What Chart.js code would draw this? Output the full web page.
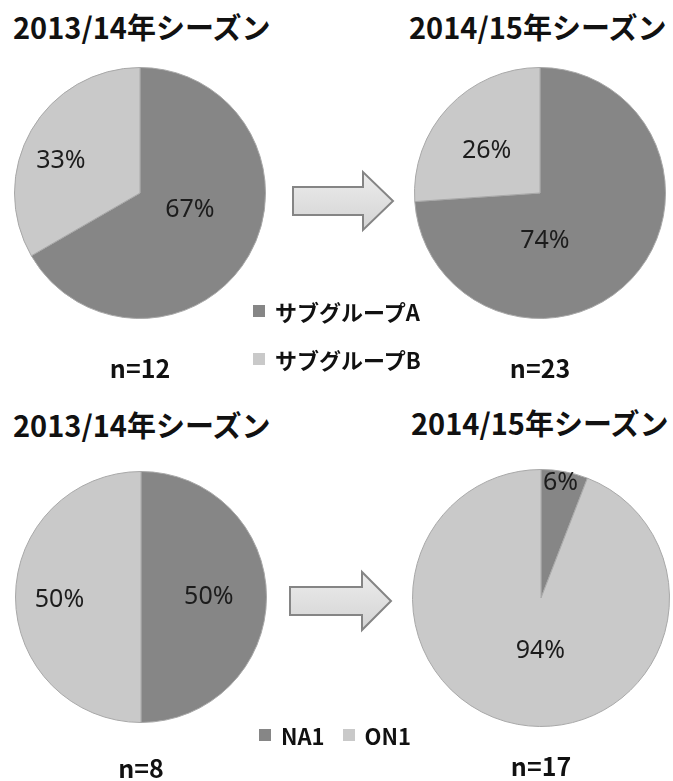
<!DOCTYPE html>
<html lang="ja">
<head>
<meta charset="utf-8">
<script src="https://cdn.jsdelivr.net/npm/chart.js@4.4.1/dist/chart.umd.min.js"></script>
<style>
  html, body { margin: 0; padding: 0; background: #fff; }
  body {
    width: 673px; height: 781px; position: relative; overflow: hidden;
    font-family: "Noto Sans CJK JP", "Noto Sans", sans-serif; color: #111;
  }
  .title { position: absolute; font-size: 29px; font-weight: 700; white-space: nowrap; line-height: 1; }
  .count { position: absolute; font-size: 25px; font-weight: 700; line-height: 1; transform: translateX(-50%); white-space: nowrap; }
  .pie { position: absolute; }
  .legend { position: absolute; font-size: 22px; font-weight: 700; line-height: 1; white-space: nowrap; }
  .legend .item { display: flex; align-items: center; }
  .legend .box { display: inline-block; width: 12px; height: 12px; margin-right: 10px; }
  svg.arrow { position: absolute; left: 0; top: 0; }
</style>
</head>
<body>

<div class="title" style="left:13px; top:12px;" id="t1"></div>
<div class="title" style="left:409px; top:12px;" id="t2"></div>
<div class="title" style="left:13px; top:410px;" id="t3"></div>
<div class="title" style="left:411px; top:408px;" id="t4"></div>

<div class="pie" style="left:14px; top:67px; width:252px; height:252px;"><canvas id="pie1" width="252" height="252"></canvas></div>
<div class="pie" style="left:414px; top:67px; width:252px; height:252px;"><canvas id="pie2" width="252" height="252"></canvas></div>
<div class="pie" style="left:15px; top:471px; width:252px; height:252px;"><canvas id="pie3" width="252" height="252"></canvas></div>
<div class="pie" style="left:412px; top:469px; width:258px; height:258px;"><canvas id="pie4" width="258" height="258"></canvas></div>

<svg class="arrow" width="673" height="781">
  <defs>
    <linearGradient id="arrowFill" x1="0" y1="0" x2="0" y2="1">
      <stop offset="0" stop-color="#ececec"/>
      <stop offset="1" stop-color="#d4d4d4"/>
    </linearGradient>
  </defs>
  <polygon points="293,187 363,187 363,172 393,201 363,230 363,215 293,215"
           fill="url(#arrowFill)" stroke="#858585" stroke-width="2"/>
  <polygon points="290,587 362,587 362,572 391,601 362,630 362,615 290,615"
           fill="url(#arrowFill)" stroke="#858585" stroke-width="2"/>
</svg>

<div class="legend" id="legend1" style="left:253px; top:300px;"></div>
<div class="legend" id="legend2" style="left:259px; top:724px;"></div>

<div class="count" style="left:140px; top:355px;" id="n1"></div>
<div class="count" style="left:540px; top:355px;" id="n2"></div>
<div class="count" style="left:141px; top:755px;" id="n3"></div>
<div class="count" style="left:541px; top:753px;" id="n4"></div>

<script>
// seasons
const seasonTitles = ["2013/14年シーズン", "2014/15年シーズン"];

// subgroup split (counts)
const subgroupLabels = ["サブグループA", "サブグループB"];
const subgroup1314 = [8, 4];
const subgroup1415 = [17, 6];

// genotype split (counts)
const genotypeLabels = ["NA1", "ON1"];
const genotype1314 = [4, 4];
const genotype1415 = [1, 16];

const sliceColors = ["#868686", "#c9c9c9"];

// percentage text inside each slice: placed from the slice's mid angle,
// nudged by `turn` degrees and pushed out to `radius` x outer radius
const sliceLabels = {
  id: "sliceLabels",
  afterDatasetsDraw(chart, args, opts) {
    const ctx = chart.ctx;
    const data = chart.data.datasets[0].data;
    const total = data.reduce((a, b) => a + b, 0);
    ctx.save();
    ctx.font = opts.font;
    ctx.fillStyle = opts.color;
    ctx.textAlign = "center";
    ctx.textBaseline = "middle";
    chart.getDatasetMeta(0).data.forEach((arc, i) => {
      const p = arc.getProps(["x", "y", "startAngle", "endAngle", "outerRadius"], true);
      const place = opts.place[i];
      const mid = (p.startAngle + p.endAngle) / 2 + place.turn * Math.PI / 180;
      const r = p.outerRadius * place.radius;
      const pct = Math.round(data[i] / total * 100) + "%";
      ctx.fillText(pct, p.x + Math.cos(mid) * r, p.y + Math.sin(mid) * r);
    });
    ctx.restore();
  }
};

function makePie(id, labels, values, place) {
  return new Chart(document.getElementById(id), {
    type: "pie",
    data: {
      labels: labels,
      datasets: [{
        data: values,
        backgroundColor: sliceColors,
        borderColor: "#a8a8a8",
        borderWidth: 1
      }]
    },
    options: {
      responsive: false,
      animation: false,
      devicePixelRatio: 1,
      layout: { padding: 0 },
      plugins: {
        legend: { display: false },
        tooltip: { enabled: false },
        sliceLabels: {
          font: "25px 'Noto Sans', 'DejaVu Sans', sans-serif",
          color: "#1c1c1c",
          place: place
        }
      }
    },
    plugins: [sliceLabels]
  });
}

makePie("pie1", subgroupLabels, subgroup1314, [{ radius: 0.42, turn: -11 }, { radius: 0.68, turn: -8 }]);
makePie("pie2", subgroupLabels, subgroup1415, [{ radius: 0.38, turn: 41 }, { radius: 0.54, turn: -5 }]);
makePie("pie3", genotypeLabels, genotype1314, [{ radius: 0.54, turn: 0 }, { radius: 0.65, turn: -2 }]);
makePie("pie4", genotypeLabels, genotype1415, [{ radius: 0.91, turn: -1 }, { radius: 0.41, turn: -10 }]);

document.getElementById("t1").textContent = seasonTitles[0];
document.getElementById("t2").textContent = seasonTitles[1];
document.getElementById("t3").textContent = seasonTitles[0];
document.getElementById("t4").textContent = seasonTitles[1];

const sum = arr => arr.reduce((a, b) => a + b, 0);
document.getElementById("n1").textContent = "n=" + sum(subgroup1314);
document.getElementById("n2").textContent = "n=" + sum(subgroup1415);
document.getElementById("n3").textContent = "n=" + sum(genotype1314);
document.getElementById("n4").textContent = "n=" + sum(genotype1415);

function buildLegend(el, labels, vertical) {
  el.style.display = "flex";
  el.style.flexDirection = vertical ? "column" : "row";
  el.style.gap = vertical ? "26px" : "18px";
  labels.forEach((text, i) => {
    const item = document.createElement("div");
    item.className = "item";
    const box = document.createElement("span");
    box.className = "box";
    box.style.background = sliceColors[i];
    item.appendChild(box);
    item.appendChild(document.createTextNode(text));
    el.appendChild(item);
  });
}
buildLegend(document.getElementById("legend1"), subgroupLabels, true);
buildLegend(document.getElementById("legend2"), genotypeLabels, false);
</script>
</body>
</html>
